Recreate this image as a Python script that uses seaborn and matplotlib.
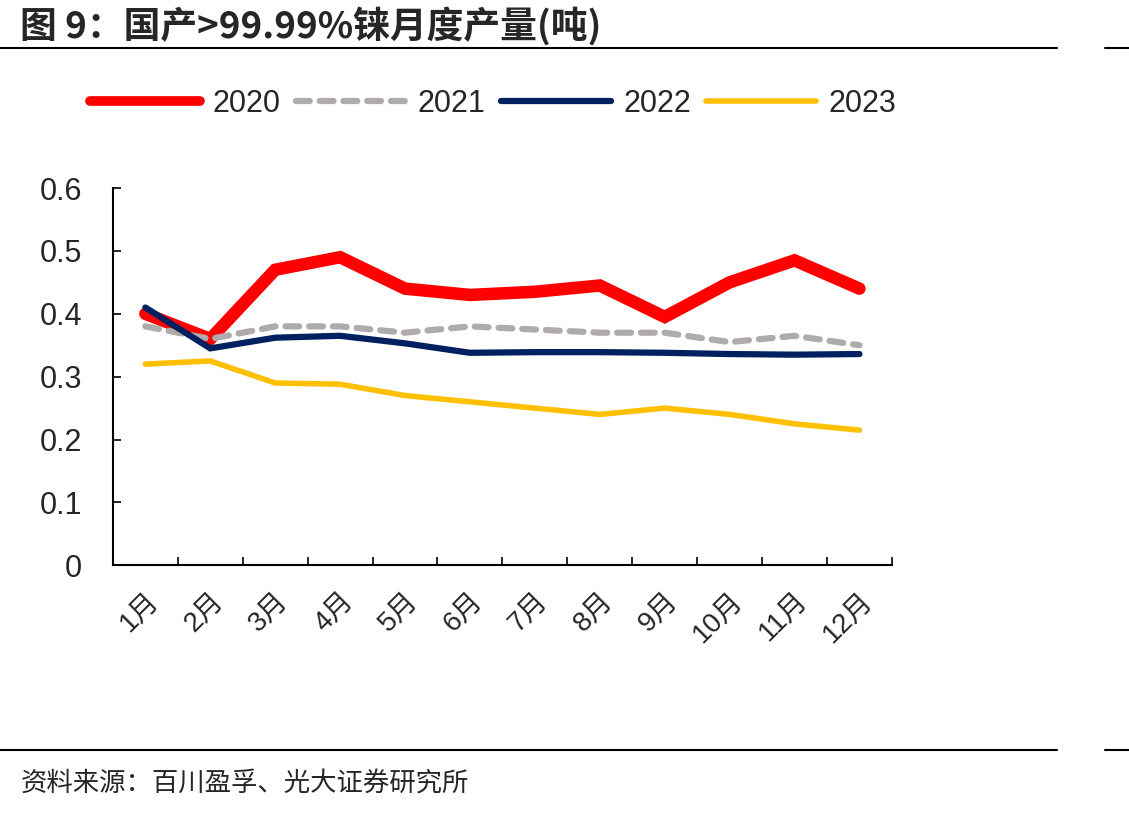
import matplotlib.pyplot as plt
import seaborn as sns
import numpy as np
import pandas as pd
from matplotlib.lines import Line2D

sns.set_theme(style="white")
plt.rcParams['font.family'] = ['Liberation Sans', 'Noto Sans CJK SC', 'DejaVu Sans']

months = ['1月', '2月', '3月', '4月', '5月', '6月', '7月', '8月', '9月', '10月', '11月', '12月']
y2020 = [0.40, 0.36, 0.47, 0.49, 0.44, 0.43, 0.435, 0.445, 0.395, 0.45, 0.485, 0.44]
y2021 = [0.38, 0.36, 0.38, 0.38, 0.37, 0.38, 0.375, 0.37, 0.37, 0.355, 0.365, 0.35]
y2022 = [0.41, 0.345, 0.362, 0.365, 0.353, 0.338, 0.339, 0.339, 0.338, 0.336, 0.335, 0.336]
y2023 = [0.32, 0.325, 0.29, 0.288, 0.27, 0.26, 0.25, 0.24, 0.25, 0.24, 0.225, 0.215]
years = ['2020', '2021', '2022', '2023']
series = [y2020, y2021, y2022, y2023]

styles = {
    '2020': dict(color='#FF0000', lw=9, ls='-'),
    '2021': dict(color='#AFABAB', lw=4.5, ls=(0, (2.2, 1.6))),
    '2022': dict(color='#002060', lw=4.5, ls='-'),
    '2023': dict(color='#FFC000', lw=4, ls='-'),
}

fig = plt.figure(figsize=(11.29, 8.14), dpi=100)
ax = fig.add_axes([0.1, 0.3055, 0.69, 0.4635])

x = np.arange(len(months))
handles = []
for yr, vals in zip(years, series):
    st = styles[yr]
    df = pd.DataFrame({'x': x, 'v': vals})
    sns.lineplot(data=df, x='x', y='v', ax=ax, color=st['color'], linewidth=st['lw'],
                 linestyle=st['ls'], solid_capstyle='round', dash_capstyle='round',
                 solid_joinstyle='miter')
    handles.append(Line2D([], [], color=st['color'], lw=st['lw'] if yr != '2020' else 7,
                          ls=st['ls'], solid_capstyle='round', dash_capstyle='round', label=yr))

ax.set_xlim(-0.5, 11.5)
ax.set_ylim(0, 0.6)
ax.set_yticks([0, 0.1, 0.2, 0.3, 0.4, 0.5, 0.6])
ax.set_yticklabels(['0', '0.1', '0.2', '0.3', '0.4', '0.5', '0.6'], fontsize=22)
ax.set_xticks(x)
ax.set_xticklabels(months, fontsize=20, rotation=45, ha='right', rotation_mode='anchor')
ax.set_xticks(np.arange(-0.5, 12, 1), minor=True)
ax.tick_params(axis='x', which='major', bottom=True, length=0, pad=16)
ax.tick_params(axis='x', which='minor', bottom=True, direction='in', length=6, width=1.2, color='black')
ax.tick_params(axis='y', left=True, direction='in', length=6, width=1.2, color='black', pad=22)
ax.set_xlabel('')
ax.set_ylabel('')
for s in ['top', 'right']:
    ax.spines[s].set_visible(False)
for s in ['left', 'bottom']:
    ax.spines[s].set_color('black')
    ax.spines[s].set_linewidth(1.5)

fig.legend(handles=handles, loc='center', bbox_to_anchor=(0.437, 0.872), ncol=4, frameon=False,
           fontsize=22, handlelength=3.6, columnspacing=0.5, handletextpad=0.4)

fig.text(0.018, 0.968, '图 9：国产>99.99%铼月度产量(吨)', fontsize=26.5, fontweight='bold',
         va='center', ha='left', family=['Noto Sans CJK SC', 'DejaVu Sans'])
fig.text(0.018, 0.037, '资料来源：百川盈孚、光大证券研究所', fontsize=19, va='center', ha='left',
         family=['Noto Sans CJK SC', 'DejaVu Sans'])

for yy in [1 - 48 / 814, 1 - 750 / 814]:
    fig.add_artist(Line2D([0, 1057 / 1129], [yy, yy], color='black', lw=1.5))
    fig.add_artist(Line2D([1105 / 1129, 1], [yy, yy], color='black', lw=1.5))

fig.savefig('out.png', dpi=100)
